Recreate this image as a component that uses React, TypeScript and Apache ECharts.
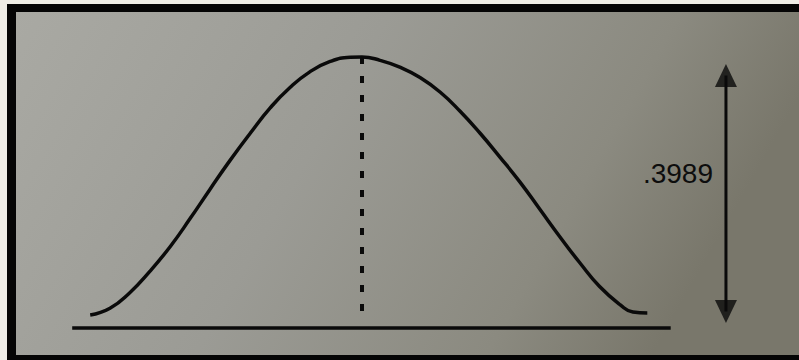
import React, { useEffect, useRef } from "react";
import * as echarts from "echarts";

// Curve: x in standard deviations, y in density
const CURVE_Z = [-3.02, -2.8, -2.58, -2.36, -2.13, -1.91, -1.69, -1.47, -1.24, -1.02, -0.8, -0.58, -0.36, -0.13, 0, 0.2, 0.42, 0.64, 0.87, 1.09, 1.31, 1.53, 1.76, 1.98, 2.2, 2.42, 2.64, 2.87, 3.01, 3.17];
const CURVE_DENSITY = [0.019, 0.029, 0.052, 0.083, 0.12, 0.161, 0.204, 0.246, 0.287, 0.324, 0.354, 0.377, 0.392, 0.3985, 0.3989, 0.394, 0.384, 0.369, 0.347, 0.319, 0.287, 0.252, 0.214, 0.174, 0.134, 0.096, 0.061, 0.034, 0.0235, 0.022];

const PEAK_VALUE = 0.3989;
const PEAK_LABEL = ".3989";
const BASELINE_Z = [-3.22, 3.43];
const DASH_BOTTOM = 0.0103;
const ARROW_Z = 4.044;
const ARROW_ENDS = [0.0243, 0.3717];

export default function App() {
  const ref = useRef<HTMLDivElement>(null);
  useEffect(() => {
    if (!ref.current) return;
    const chart = echarts.init(ref.current, undefined, { renderer: "svg" });
    const ink = "#0a0a0a";
    const yMin = -0.04;
    const yMax = 0.44;
    const baseY = 328;
    const pxPerY = 271 / PEAK_VALUE;
    chart.setOption({
      animation: false,
      backgroundColor: "#efede6",
      grid: {
        left: 2,
        right: 5,
        top: baseY - yMax * pxPerY,
        bottom: 360 - (baseY - yMin * pxPerY),
      },
      xAxis: { type: "value", min: -4, max: 4.8, show: false },
      yAxis: { type: "value", min: yMin, max: yMax, show: false },
      graphic: {
        elements: [
          { type: "rect", z: 0, shape: { x: 7, y: 4, width: 792, height: 356 }, style: { fill: "#050505" } },
          {
            type: "rect",
            z: 0,
            shape: { x: 16, y: 12, width: 783, height: 343 },
            style: {
              fill: new echarts.graphic.LinearGradient(0, 0, 1, 0.25, [
                { offset: 0, color: "#a9a9a3" },
                { offset: 0.45, color: "#9b9b95" },
                { offset: 0.8, color: "#8b8a80" },
                { offset: 1, color: "#79776b" },
              ]),
            },
          },
          {
            type: "text",
            z: 10,
            x: 713,
            y: 173,
            style: {
              text: PEAK_LABEL,
              fill: "#0d0d0d",
              font: "28px 'Liberation Sans', Arial, sans-serif",
              align: "right",
              verticalAlign: "middle",
            },
          },
        ],
      },
      series: [
        {
          type: "line",
          data: CURVE_Z.map((z, i) => [z, CURVE_DENSITY[i]]),
          smooth: 0.5,
          symbol: "none",
          clip: false,
          lineStyle: { color: ink, width: 3.5 },
          z: 5,
        },
        {
          type: "line",
          data: BASELINE_Z.map((z) => [z, 0]),
          symbol: "none",
          lineStyle: { color: ink, width: 3.5 },
          z: 5,
        },
        {
          type: "line",
          data: [[0, PEAK_VALUE], [0, DASH_BOTTOM]],
          symbol: "none",
          lineStyle: { color: ink, width: 4, type: [7, 12], cap: "butt" },
          z: 5,
        },
        {
          type: "line",
          data: ARROW_ENDS.map((v) => [ARROW_Z, v]),
          symbol: "none",
          lineStyle: { color: ink, width: 3 },
          z: 5,
        },
        {
          type: "scatter",
          data: [
            { value: [ARROW_Z, ARROW_ENDS[1]], symbolRotate: 0 },
            { value: [ARROW_Z, ARROW_ENDS[0]], symbolRotate: 180 },
          ],
          symbol: "triangle",
          symbolSize: [22, 23],
          itemStyle: { color: ink },
          z: 6,
        },
      ],
    });
    return () => chart.dispose();
  }, []);
  return (
    <div
      ref={ref}
      style={{ position: "fixed", left: 0, top: 0, width: 799, height: 360 }}
    />
  );
}
